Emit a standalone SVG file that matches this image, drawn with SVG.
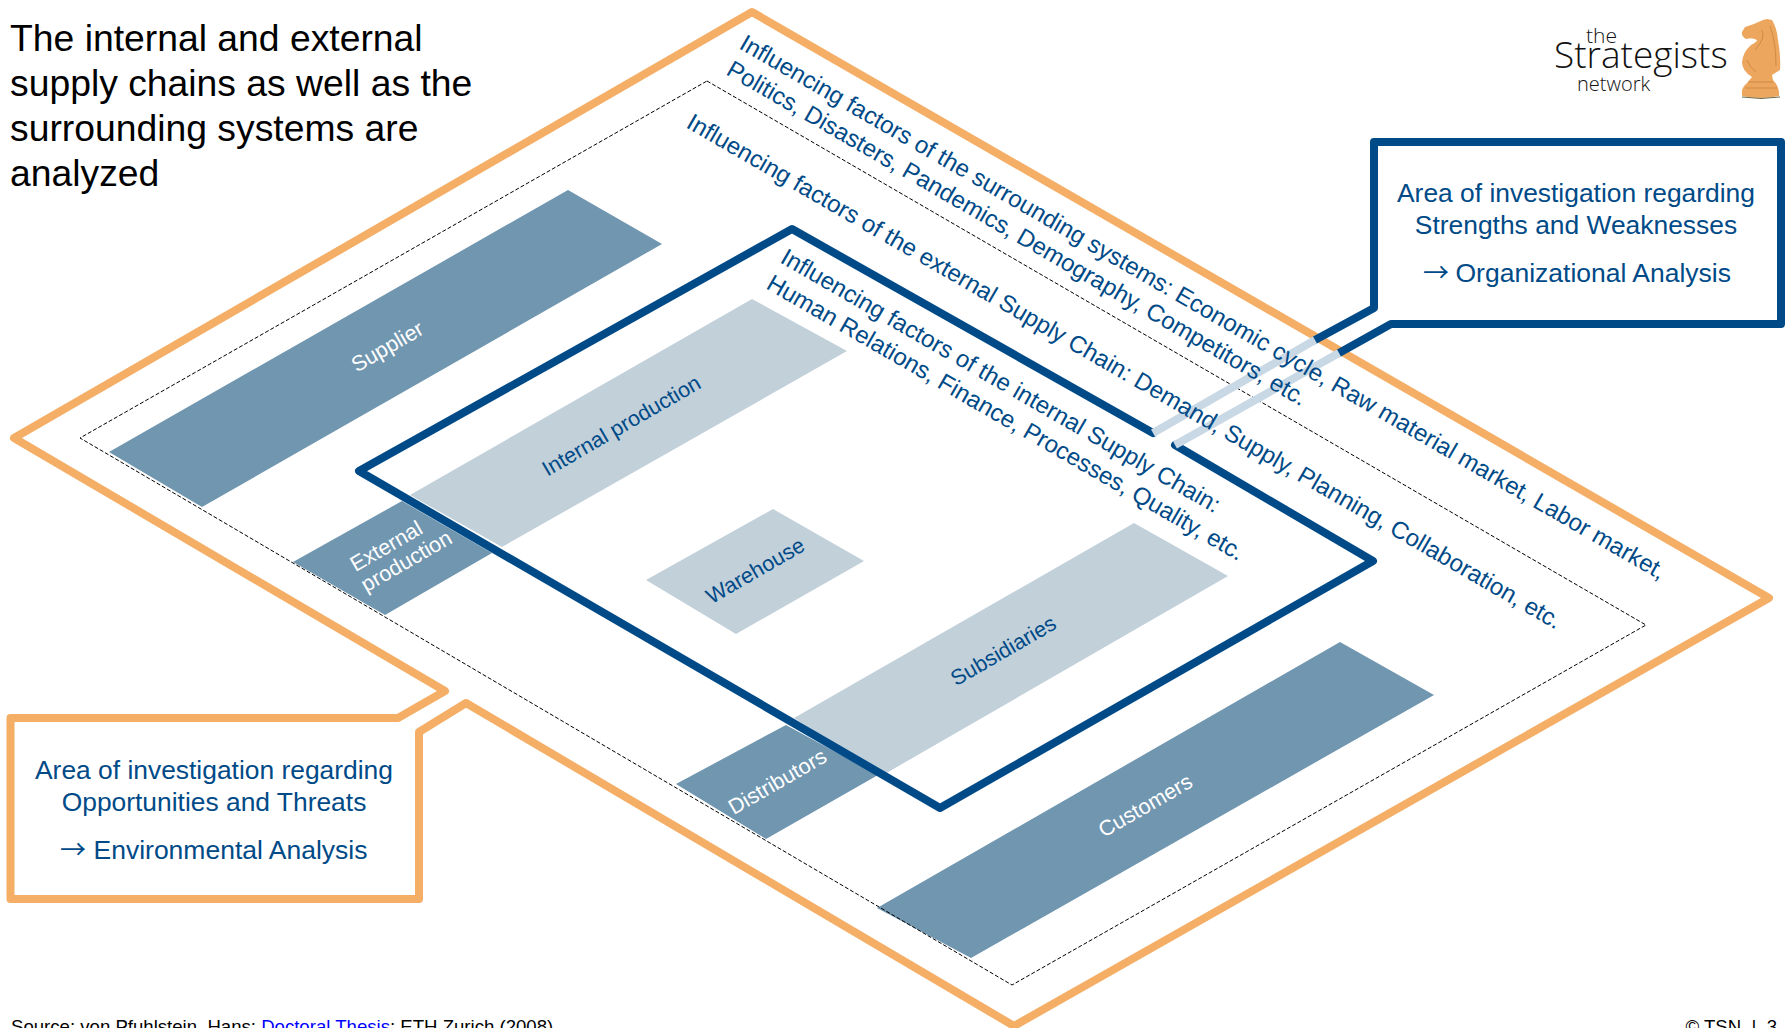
<svg xmlns="http://www.w3.org/2000/svg" width="1787" height="1028" viewBox="0 0 1787 1028">
<style>
text{font-family:"Liberation Sans",Arial,sans-serif}
.dark{fill:#7096B0}
.light{fill:#C2D0DA}
.or{fill:none;stroke:#F4AE66;stroke-width:8;stroke-linejoin:round;stroke-linecap:round}
.bl{fill:none;stroke:#004A87;stroke-width:8;stroke-linejoin:round;stroke-linecap:round}
.lb{fill:none;stroke:#C9D8E5;stroke-width:8}
.d{font-size:24px;fill:#004A87}
.w{font-size:21.6px;fill:#fff;text-anchor:middle}
.n{font-size:21.6px;fill:#004A87;text-anchor:middle}
.c{font-size:26.4px;fill:#004A87;text-anchor:middle}
.s1{font-size:26.5px;fill:#004A87}
.a{font-family:"Noto Sans CJK JP",sans-serif;font-size:26px;fill:#004A87}
.t{font-size:37.3px;fill:#000}
.f{font-size:18.6px;fill:#000}
.l{font-family:"Open Sans",sans-serif;font-weight:300;fill:#111}
.s{fill:none;stroke:#CF8A45;stroke-width:1}
</style>
<rect width="1787" height="1028" fill="#fff"/>
<g id="supplier"><polygon class="dark" points="568,190 662,244 202,507 109,452"/><text class="w" transform="translate(391,353) rotate(-30)">Supplier</text></g>
<g id="internal-production"><polygon class="light" points="752,299 847,351 502,547 410,495"/><text class="n" transform="translate(625,432) rotate(-30)">Internal production</text></g>
<g id="external-production"><polygon class="dark" points="293,562 385,615 492,553 402,501"/><text class="w" transform="translate(404,557) rotate(-30)"><tspan x="-10" y="-11">External</tspan><tspan x="0" y="12">production</tspan></text></g>
<g id="warehouse"><polygon class="light" points="773,509 864,561 736,634 646,580"/><text class="n" transform="translate(759,577) rotate(-30)">Warehouse</text></g>
<g id="subsidiaries"><polygon class="light" points="1134,523 1228,576 883,775 794,718"/><text class="n" transform="translate(1007,657) rotate(-30)">Subsidiaries</text></g>
<g id="distributors"><polygon class="dark" points="786,725 878,775 766,839 676,784"/><text class="w" transform="translate(781,788) rotate(-30)">Distributors</text></g>
<g id="customers"><polygon class="dark" points="1340,642 1434,695 971,958 877,908"/><text class="w" transform="translate(1149,812) rotate(-30)">Customers</text></g>
<g id="surrounding-boundary"><polygon fill="none" stroke="#000" stroke-width="1" stroke-dasharray="4 2" points="707,81 1646,625 1012,985 80,438"/></g>
<g id="environment-area"><path class="or" d="M10.5,718 L398,718 L445,691 L14,438 L752,12 L1769,598 L1014,1026 L466,703 L419,732 L419,899 L10.5,899 Z"/>
<text class="c" x="214" y="779">Area of investigation regarding</text><text class="c" x="214" y="811">Opportunities and Threats</text><text class="a" x="60" y="859">→</text><text class="s1" x="93.5" y="859">Environmental Analysis</text></g>
<g id="organization-area"><path class="bl" d="M1153,433 L792,229 L359,471 L940,808 L1373,561 L1175,445"/><path class="bl" d="M1315,340 L1374,308 L1374,142 L1781,142 L1781,324 L1391,324 L1339,353"/>
<text class="c" x="1576" y="202">Area of investigation regarding</text><text class="c" x="1576" y="234">Strengths and Weaknesses</text><text class="a" x="1423" y="282">→</text><text class="s1" x="1455.5" y="282">Organizational Analysis</text></g>
<g id="connectors"><line class="lb" x1="1153" y1="433" x2="1315" y2="340"/><line class="lb" x1="1175" y1="445" x2="1339" y2="353"/></g>
<g id="factors">
<text class="d" transform="translate(738,48) rotate(30)">Influencing factors of the surrounding systems: Economic cycle, Raw material market, Labor market,</text>
<text class="d" transform="translate(725,74) rotate(30)">Politics, Disasters, Pandemics, Demography, Competitors, etc.</text>
<text class="d" transform="translate(685,127) rotate(30)">Influencing factors of the external Supply Chain: Demand, Supply, Planning, Collaboration, etc.</text>
<text class="d" transform="translate(779,262) rotate(30)">Influencing factors of the internal Supply Chain:</text>
<text class="d" transform="translate(765,288) rotate(30)">Human Relations, Finance, Processes, Quality, etc.</text>
</g>
<g id="title"><text class="t" x="10" y="51">The internal and external</text><text class="t" x="10" y="96">supply chains as well as the</text><text class="t" x="10" y="141">surrounding systems are</text><text class="t" x="10" y="186">analyzed</text></g>
<g id="logo"><text class="l" x="1586" y="43" font-size="21">the</text><text class="l" x="1554" y="68" font-size="37">Strategists</text><text class="l" x="1577" y="91" font-size="20">network</text>
<path fill="#EDA65E" d="M1742,96 L1742,90 Q1744,85 1748,82 L1752,77 Q1742,71 1742,62 Q1743,52 1751,45 Q1757,42 1757,40 Q1752,37 1746,39 Q1741,36 1742,32 L1745,27 Q1755,24 1763,20 L1767,19 L1772,20 Q1777,28 1778,40 Q1781,58 1780,70 L1772,75 L1773,80 Q1778,85 1779,92 L1779,96 Q1761,100 1742,96 Z"/>
<path class="s" d="M1748,82 H1773 M1745,88 H1777 M1770,26 Q1776,42 1776,66 M1755,50 Q1766,38 1762,30 M1747,60 Q1750,68 1756,72"/>
<path fill="none" stroke="#6E6A4A" stroke-width="1" d="M1742,97 Q1761,100 1780,97"/></g>
<g id="footer"><text class="f" x="11" y="1033">Source: von Pfuhlstein, Hans: <tspan fill="#0000FF" text-decoration="underline">Doctoral Thesis</tspan>; ETH Zurich (2008)</text><text class="f" x="1777" y="1033" text-anchor="end">© TSN&#160;&#160;|&#160;&#160;3</text></g>
</svg>
